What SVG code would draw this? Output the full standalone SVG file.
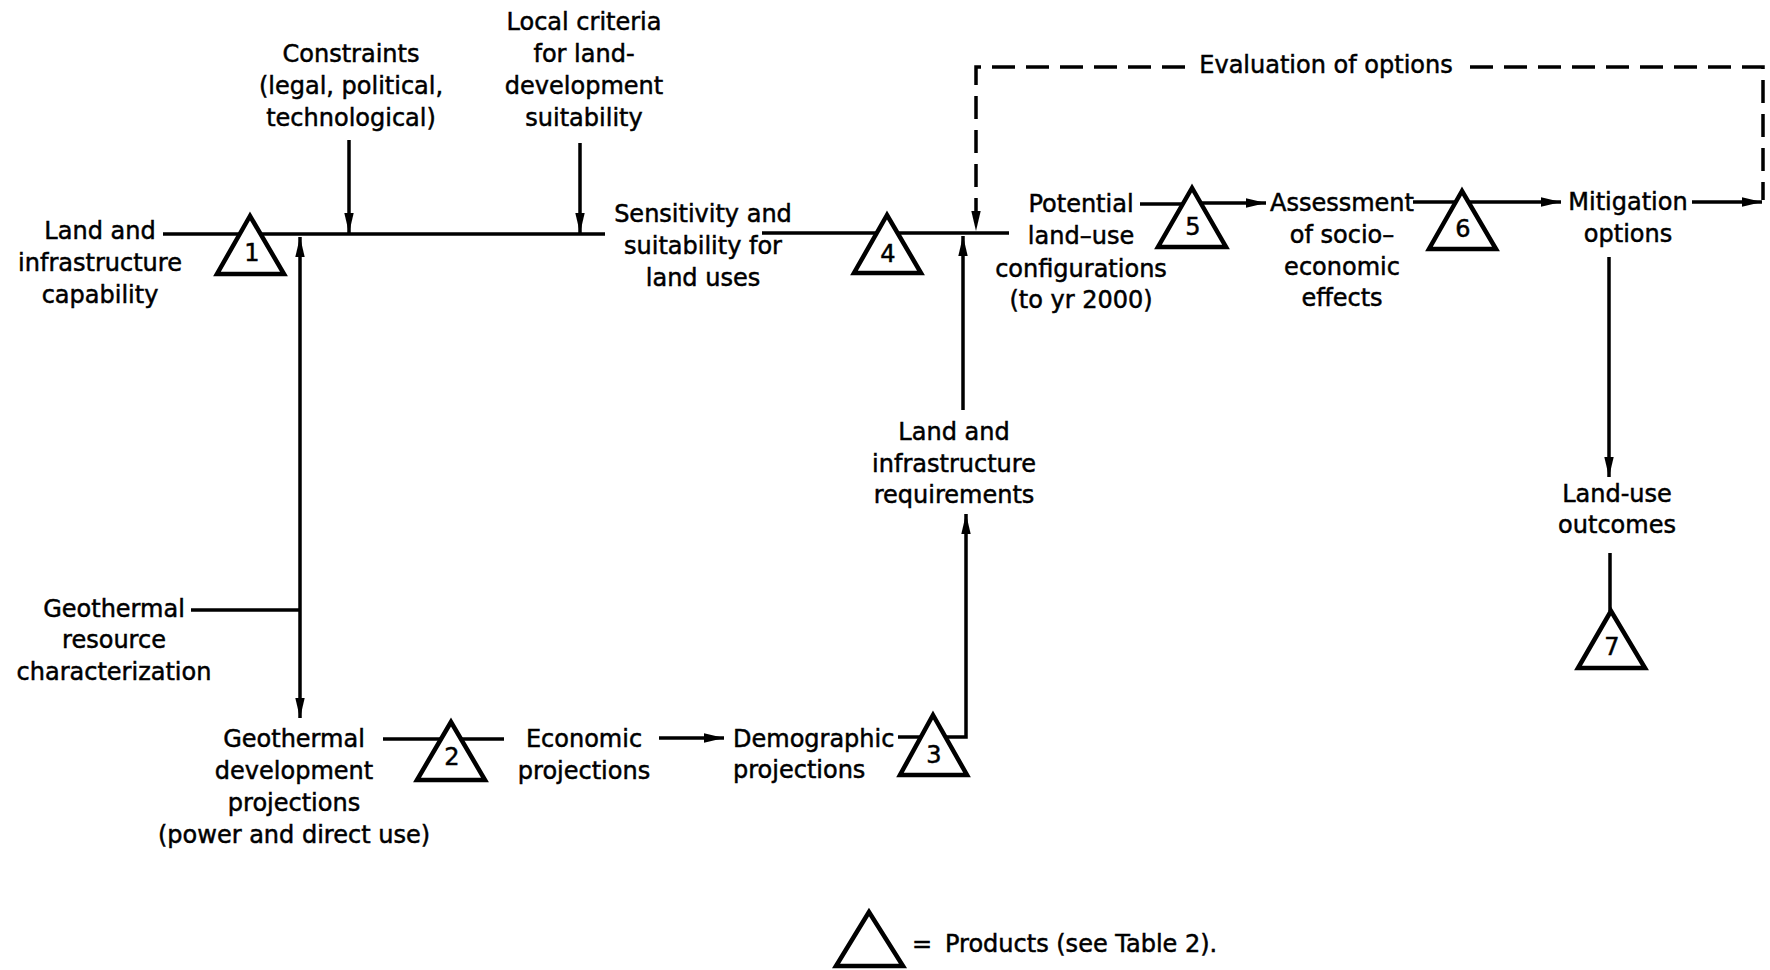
<svg xmlns="http://www.w3.org/2000/svg" width="1770" height="970" viewBox="0 0 1770 970">
<defs>
<marker id="ah" viewBox="0 0 20 10" refX="20" refY="5" markerWidth="20" markerHeight="10" markerUnits="userSpaceOnUse" orient="auto"><path d="M0,0.3 L20,5 L0,9.7 z" fill="#000"/></marker>
</defs>
<style>
text{font-family:"DejaVu Sans","Liberation Sans",sans-serif;font-size:24px;fill:#000;stroke:#000;stroke-width:0.5;text-anchor:middle}
.l{stroke:#000;stroke-width:3.5;fill:none}
.d{stroke-dasharray:23 11}
.a{marker-end:url(#ah)}
.t{stroke:#000;stroke-width:4.5;fill:#fff;stroke-linejoin:miter}
.s{text-anchor:start}
</style>
<rect width="1770" height="970" fill="#fff"/>
<g id="connectors">
<path class="l" d="M163,234 H605"/>
<path class="l a" d="M349,140 V233"/>
<path class="l a" d="M580,143 V233"/>
<path class="l a" d="M300,610 V237"/>
<path class="l a" d="M300,610 V718"/>
<path class="l" d="M191,610 H300"/>
<path class="l" d="M762,233 H1009"/>
<path class="l a" d="M963,410 V236"/>
<path class="l" d="M383,739 H504"/>
<path class="l a" d="M659,738 H724"/>
<path class="l" d="M898,737 H920"/>
<path class="l a" d="M940,737 H966 V514"/>
<path class="l d a" d="M1185,67 H976 V231"/>
<path class="l d" d="M1470,67 H1763 V200"/>
<path class="l" d="M1140,204 H1185"/>
<path class="l a" d="M1200,203 H1266"/>
<path class="l" d="M1413,202 H1460"/>
<path class="l a" d="M1462,202 H1561"/>
<path class="l a" d="M1692,202 H1762"/>
<path class="l a" d="M1609,257 V477"/>
<path class="l" d="M1610,553 V611"/>
</g>
<g id="n-land-capability"><text x="100" y="239">Land and</text><text x="100" y="271">infrastructure</text><text x="100" y="303">capability</text></g>
<g id="p1"><polygon class="t" points="250,216 217,274 284,274"/><text x="252" y="261">1</text></g>
<g id="n-constraints"><text x="351" y="62">Constraints</text><text x="351" y="94">(legal, political,</text><text x="351" y="126">technological)</text></g>
<g id="n-local-criteria"><text x="584" y="30">Local criteria</text><text x="584" y="62">for land-</text><text x="584" y="94">development</text><text x="584" y="126">suitability</text></g>
<g id="n-sensitivity"><text x="703" y="222">Sensitivity and</text><text x="703" y="254">suitability for</text><text x="703" y="286">land uses</text></g>
<g id="p4"><polygon class="t" points="887,215 854,273 921,273"/><text x="888" y="262">4</text></g>
<g id="n-evaluation"><text x="1326" y="73">Evaluation of options</text></g>
<g id="n-potential"><text x="1081" y="212">Potential</text><text x="1081" y="244">land–use</text><text x="1081" y="277">configurations</text><text x="1081" y="308">(to yr 2000)</text></g>
<g id="p5"><polygon class="t" points="1192,188 1158,247 1226,247"/><text x="1193" y="235">5</text></g>
<g id="n-assessment"><text x="1342" y="211">Assessment</text><text x="1342" y="243">of socio–</text><text x="1342" y="275">economic</text><text x="1342" y="306">effects</text></g>
<g id="p6"><polygon class="t" points="1462,191 1429,249 1496,249"/><text x="1463" y="237">6</text></g>
<g id="n-mitigation"><text x="1628" y="210">Mitigation</text><text x="1628" y="242">options</text></g>
<g id="n-outcomes"><text x="1617" y="502">Land-use</text><text x="1617" y="533">outcomes</text></g>
<g id="p7"><polygon class="t" points="1611,611 1578,668 1645,668"/><text x="1612" y="655">7</text></g>
<g id="n-requirements"><text x="954" y="440">Land and</text><text x="954" y="472">infrastructure</text><text x="954" y="503">requirements</text></g>
<g id="n-geo-resource"><text x="114" y="617">Geothermal</text><text x="114" y="648">resource</text><text x="114" y="680">characterization</text></g>
<g id="n-geo-development"><text x="294" y="747">Geothermal</text><text x="294" y="779">development</text><text x="294" y="811">projections</text><text x="294" y="843">(power and direct use)</text></g>
<g id="p2"><polygon class="t" points="451,722 417,780 485,780"/><text x="452" y="765">2</text></g>
<g id="n-economic"><text x="584" y="747">Economic</text><text x="584" y="779">projections</text></g>
<g id="n-demographic"><text class="s" x="733" y="747">Demographic</text><text class="s" x="733" y="778">projections</text></g>
<g id="p3"><polygon class="t" points="933,715 900,775 967,775"/><text x="934" y="763">3</text></g>
<g id="legend"><polygon class="t" points="869,912 836,966 903,966"/><text class="s" x="912" y="952">=</text><text class="s" x="945" y="952">Products (see Table 2).</text></g>
</svg>
